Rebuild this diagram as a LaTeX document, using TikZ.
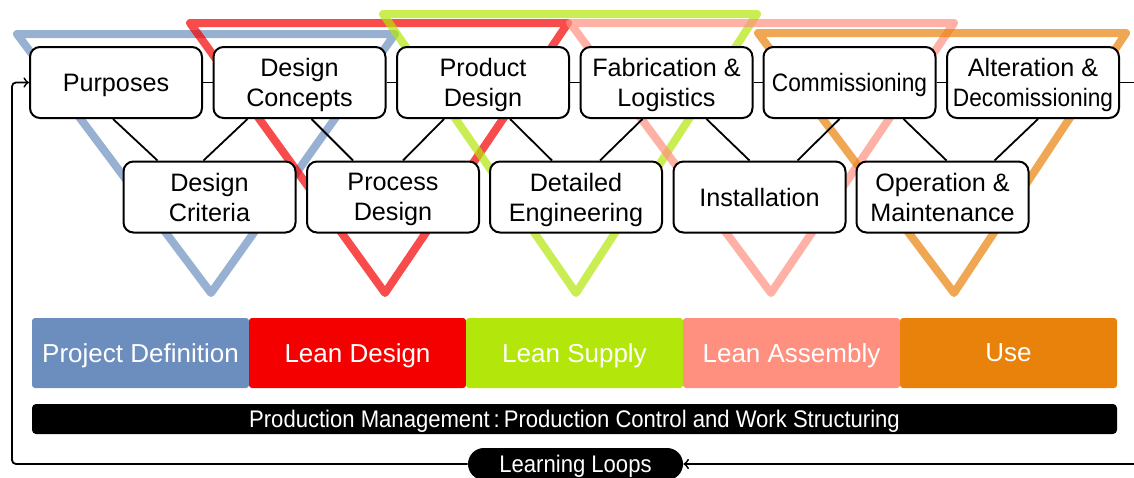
\documentclass[tikz,border=0pt]{standalone}
\usepackage{fontspec}
\setmainfont{Liberation Sans}
\newfontfamily\narrowfont[FakeStretch=0.9]{Liberation Sans}
\newfontfamily\barfont[FakeStretch=0.92]{Liberation Sans}
\usetikzlibrary{arrows}

\definecolor{defblue}{HTML}{6C8EBF}
\definecolor{designred}{HTML}{F50000}
\definecolor{supplygreen}{HTML}{B3E60A}
\definecolor{assemblypink}{HTML}{FF9080}
\definecolor{useorange}{HTML}{E8820A}

\tikzset{
  stagebox/.style={draw, line width=1pt, fill=white, rounded corners=5pt,
    minimum width=86pt, minimum height=35.5pt, inner sep=1pt, align=center,
    text depth=0pt, font=\fontsize{12.6}{15}\selectfont},
  phasebar/.style={fill=#1, text=white, rounded corners=1.5pt,
    minimum width=108.5pt, minimum height=35pt, inner sep=0pt, text depth=0pt,
    font=\fontsize{13}{15}\selectfont},
  tri/.style={draw=#1, draw opacity=0.7, line width=4pt, line join=round},
  link/.style={line width=0.9pt},
}

\begin{document}
\begin{tikzpicture}[x=0.5pt,y=-0.5pt]
			\useasboundingbox (0,0) rectangle (1134,477);
			% triangles behind the boxes
			\draw[tri=defblue]      (17,34) -- (395,34) -- (211,293) -- cycle;
			\draw[tri=designred]    (190,23) -- (568,23) -- (385,293) -- cycle;
			\draw[tri=supplygreen]  (383,14) -- (757,14) -- (576,293) -- cycle;
			\draw[tri=assemblypink] (570,23) -- (954,23) -- (771,293) -- cycle;
			\draw[tri=useorange]    (758,33) -- (1126,33) -- (954,293) -- cycle;
			% top row
			\node[stagebox] (purp) at (116,82.5)    {Purposes};
			\node[stagebox] (conc) at (299.5,82.5)  {Design\\Concepts};
			\node[stagebox] (prod) at (483,82.5)    {Product\\Design};
			\node[stagebox] (fabr) at (666.5,82.5)  {Fabrication \&\\Logistics};
			\node[stagebox] (comm) at (849.5,82.5)  {\narrowfont Commissioning};
			\node[stagebox] (alte) at (1033,82.5)   {Alteration \&\\\narrowfont Decomissioning};
			% bottom row
			\node[stagebox] (crit) at (209.5,197)   {Design\\Criteria};
			\node[stagebox] (proc) at (393,197)     {Process\\Design};
			\node[stagebox] (deta) at (576,197)     {Detailed\\Engineering};
			\node[stagebox] (inst) at (759.5,197)   {Installation};
			\node[stagebox] (oper) at (942.5,197)   {Operation \&\\Maintenance};
			% links
			\draw[link] (purp) -- (conc);
			\draw[link] (conc) -- (prod);
			\draw[link] (prod) -- (fabr);
			\draw[link] (fabr) -- (comm);
			\draw[link] (comm) -- (alte);
			\draw[link] ([xshift=-1.5pt]purp.south) -- ([xshift=-26pt]crit.north);
			\draw[link] ([xshift=-26pt]conc.south) -- ([xshift=-3pt]crit.north);
			\draw[link] ([xshift=6pt]conc.south) -- ([xshift=-20pt]proc.north);
			\draw[link] ([xshift=-19.5pt]prod.south) -- ([xshift=5pt]proc.north);
			\draw[link] ([xshift=13.5pt]prod.south) -- ([xshift=-12pt]deta.north);
			\draw[link] ([xshift=-12pt]fabr.south) -- ([xshift=12pt]deta.north);
			\draw[link] ([xshift=20pt]fabr.south) -- ([xshift=-5pt]inst.north);
			\draw[link] ([xshift=-5pt]comm.south) -- ([xshift=19pt]inst.north);
			\draw[link] ([xshift=27pt]comm.south) -- ([xshift=2pt]oper.north);
			\draw[link] ([xshift=2.5pt]alte.south) -- ([xshift=26pt]oper.north);
			% phases
			\node[phasebar=defblue]      (pdef) at (140.5,353) {Project Definition};
			\node[phasebar=designred]    (ldes) at (357.5,353) {Lean Design};
			\node[phasebar=supplygreen]  (lsup) at (574.5,353) {Lean Supply};
			\node[phasebar=assemblypink] (lass) at (791.5,353) {Lean Assembly};
			\node[phasebar=useorange]    (luse) at (1008.5,353) {Use};
			\node[fill=black, text=white, rounded corners=2pt, minimum width=542.5pt,
				minimum height=15pt, inner sep=0pt, text depth=0pt, font=\barfont\fontsize{12}{14}\selectfont]
				(pman) at (574.5,419) {Production Management\,:\,Production Control and Work Structuring};
			% learning loop
			\node[fill=black, text=white, rounded corners=8pt, minimum width=107.5pt,
				minimum height=16pt, inner sep=0pt, text depth=0pt, font=\barfont\fontsize{12}{14}\selectfont]
				(learn) at (575.5,464) {Learning Loops};
			\coordinate (altR) at (1134,82.5);
			\coordinate (loopR) at (1134,464);
			\coordinate (loopL) at (12,464);
			\draw[link] (alte.east) -- (altR);
			\draw[link,->] (loopR) -- (learn.east);
			\draw[link,->,rounded corners=2pt] (learn.west) -- (loopL) |- (purp.west);
		\end{tikzpicture}
\end{document}
